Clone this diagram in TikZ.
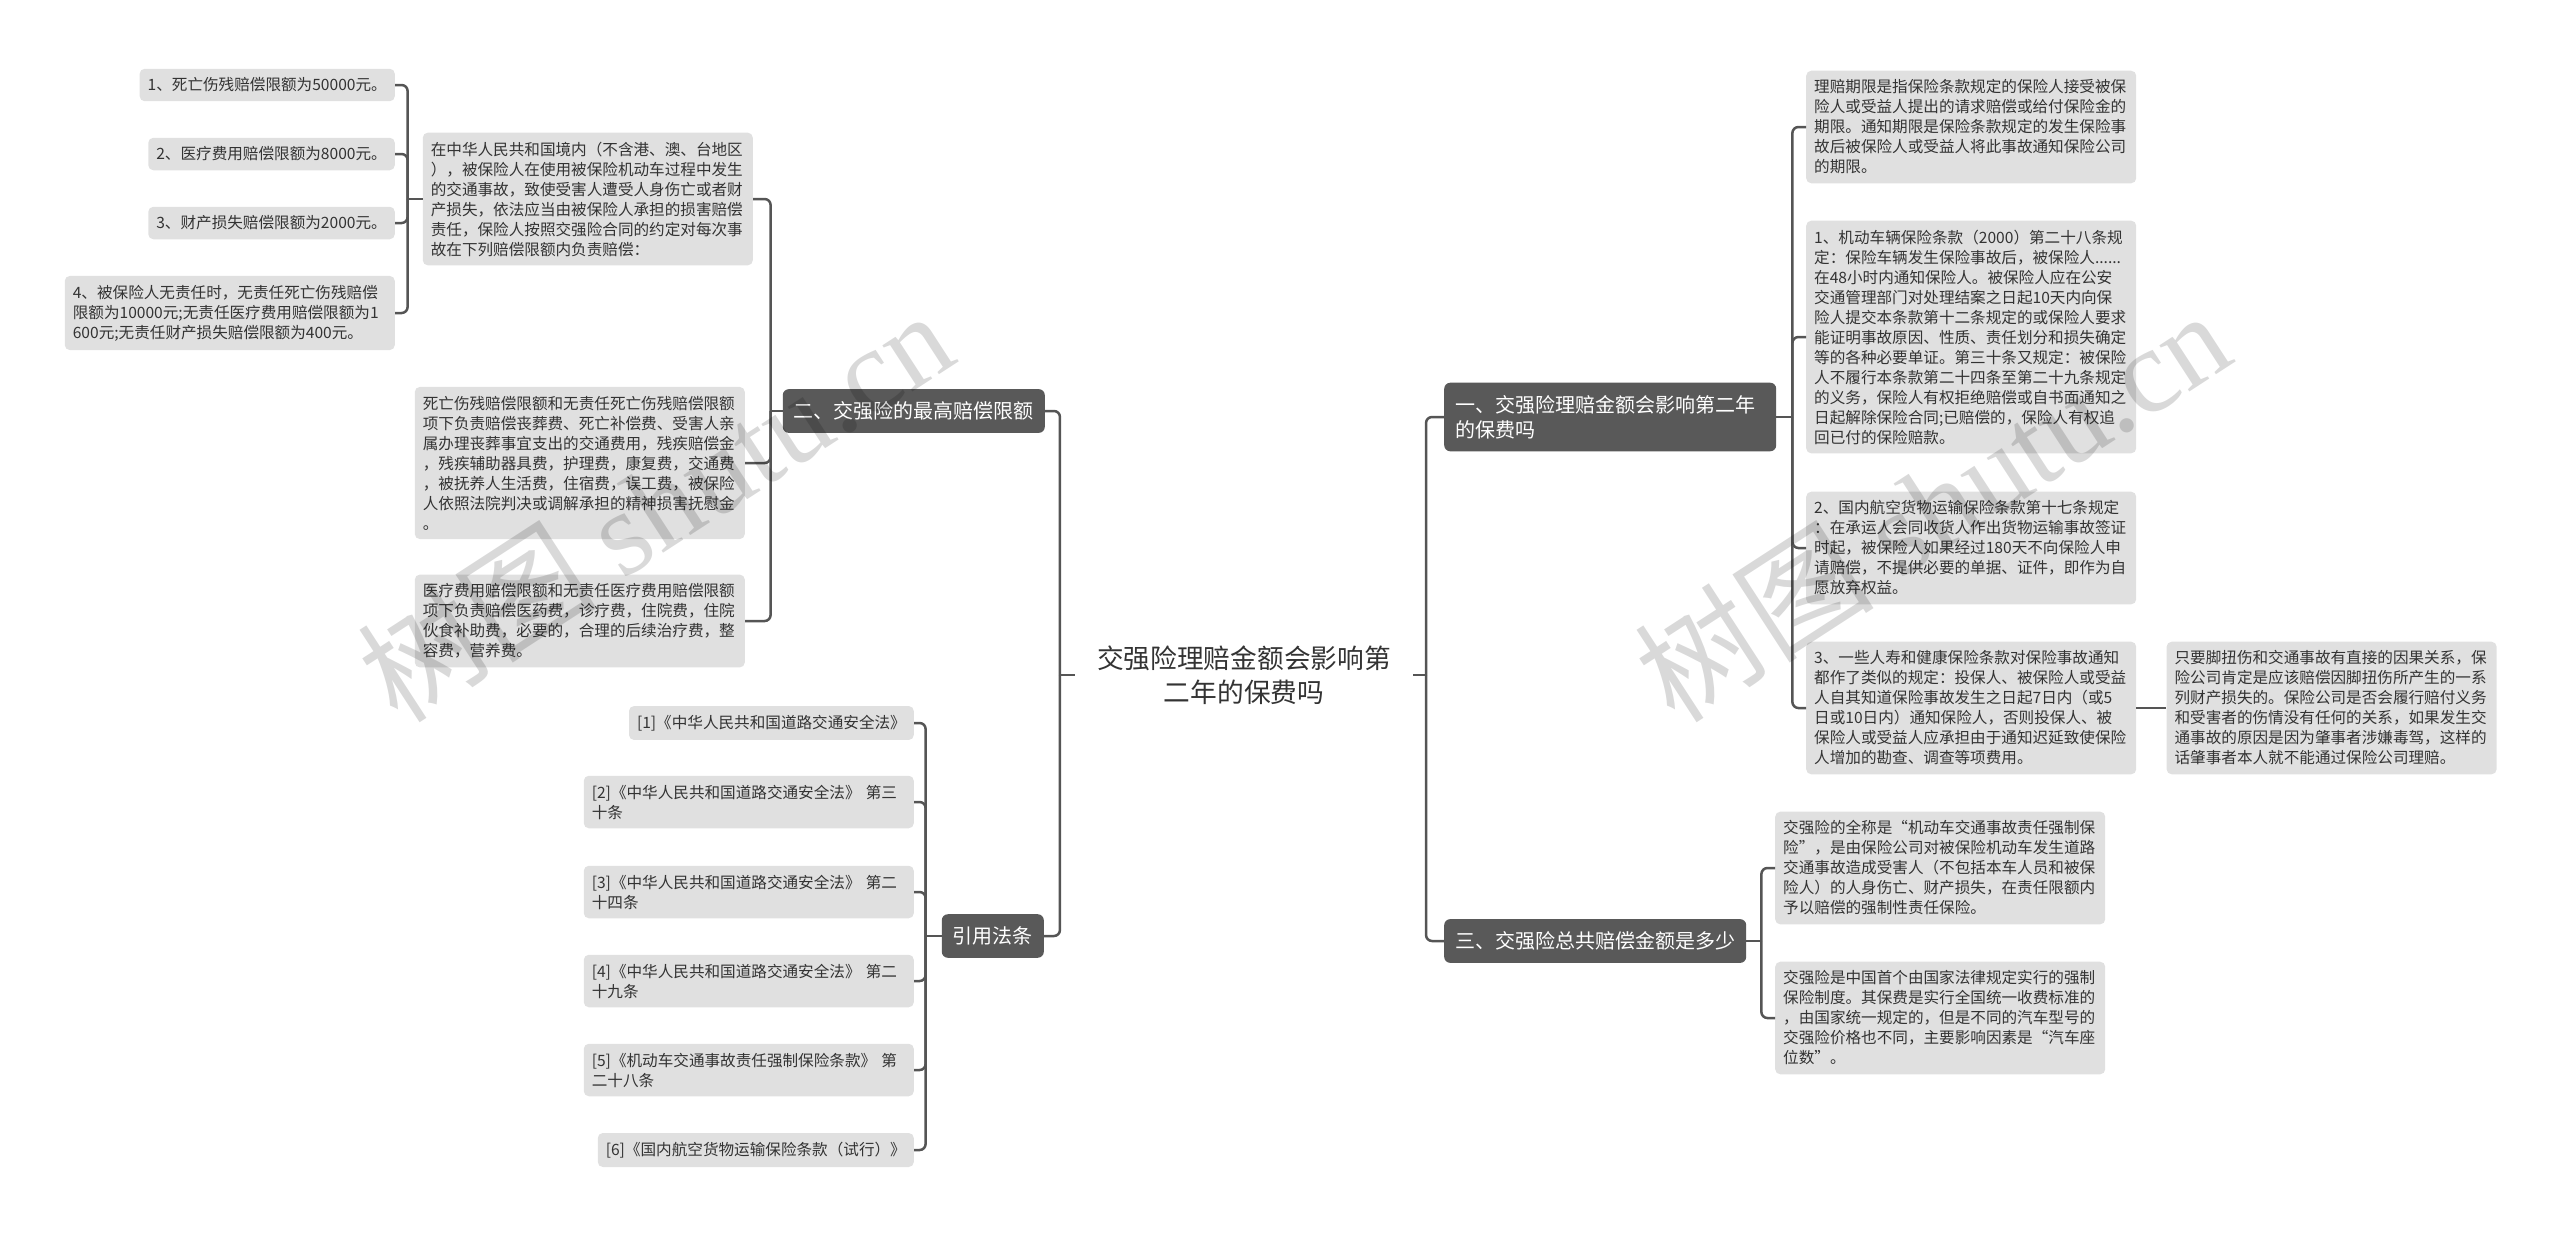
\documentclass[tikz,border=0pt]{standalone}
\usepackage{fontspec}
\setmainfont{Noto Sans CJK SC}
\newfontfamily\wmlatin{Liberation Serif}
\usetikzlibrary{positioning}

\definecolor{branchgray}{HTML}{595959}
\definecolor{leafgray}{HTML}{E0E0E0}
\definecolor{linkgray}{HTML}{555555}
\definecolor{textgray}{HTML}{333333}

\tikzset{
  leaf/.style={fill=leafgray, rounded corners=5pt, inner xsep=8pt, inner ysep=9pt,
    align=left, text=textgray, font=\fontsize{15.6}{20}\selectfont},
  leafwide/.style={leaf, text width=314pt},
  branch/.style={fill=branchgray, rounded corners=6pt, inner xsep=11pt, inner ysep=12.5pt,
    align=left, text=white, font=\fontsize{20}{25}\selectfont},
  link/.style={draw=linkgray, line width=2.5pt, rounded corners=6pt},
  watermark/.style={text=black, opacity=0.15, rotate=33, font=\fontsize{120}{120}\selectfont}
}

\begin{document}
\begin{tikzpicture}[x=1pt,y=-1pt]
    \useasboundingbox (0,0) rectangle (2560,1235);

    % Root
    \node[font=\fontsize{26.7}{34}\selectfont, align=center, text=textgray, inner xsep=22pt]
        (root) at (1244,675) {交强险理赔金额会影响第\\二年的保费吗};

    % Main branches
    \node[branch, anchor=east] (maxlimit) at (1045,411) {二、交强险的最高赔偿限额};
    \node[branch, anchor=east] (laws) at (1044,936) {引用法条};
    \node[branch, anchor=west, text width=310pt] (premium) at (1444,417) {一、交强险理赔金额会影响第二年\\的保费吗};
    \node[branch, anchor=west] (total) at (1444,941) {三、交强险总共赔偿金额是多少};

    % Left: limits
    \node[leafwide, anchor=east] (rule1) at (753,199) {在中华人民共和国境内（不含港、澳、台地区\\），被保险人在使用被保险机动车过程中发生\\的交通事故，致使受害人遭受人身伤亡或者财\\产损失，依法应当由被保险人承担的损害赔偿\\责任，保险人按照交强险合同的约定对每次事\\故在下列赔偿限额内负责赔偿：};
    \node[leafwide, anchor=east] (rule2) at (745,463) {死亡伤残赔偿限额和无责任死亡伤残赔偿限额\\项下负责赔偿丧葬费、死亡补偿费、受害人亲\\属办理丧葬事宜支出的交通费用，残疾赔偿金\\，残疾辅助器具费，护理费，康复费，交通费\\，被抚养人生活费，住宿费，误工费，被保险\\人依照法院判决或调解承担的精神损害抚慰金\\。};
    \node[leafwide, anchor=east] (rule3) at (745,621) {医疗费用赔偿限额和无责任医疗费用赔偿限额\\项下负责赔偿医药费，诊疗费，住院费，住院\\伙食补助费，必要的，合理的后续治疗费，整\\容费，营养费。};

    \node[leaf, anchor=east] (lim1) at (395,85) {1、死亡伤残赔偿限额为50000元。};
    \node[leaf, anchor=east] (lim2) at (395,154) {2、医疗费用赔偿限额为8000元。};
    \node[leaf, anchor=east] (lim3) at (395,223) {3、财产损失赔偿限额为2000元。};
    \node[leafwide, anchor=east] (lim4) at (395,313) {4、被保险人无责任时，无责任死亡伤残赔偿\\限额为10000元;无责任医疗费用赔偿限额为1\\600元;无责任财产损失赔偿限额为400元。};

    % Left: cited laws
    \node[leaf, anchor=east] (law1) at (914,723) {[1]《中华人民共和国道路交通安全法》};
    \node[leafwide, anchor=east] (law2) at (914,802) {[2]《中华人民共和国道路交通安全法》 第三\\十条};
    \node[leafwide, anchor=east] (law3) at (914,892) {[3]《中华人民共和国道路交通安全法》 第二\\十四条};
    \node[leafwide, anchor=east] (law4) at (914,981) {[4]《中华人民共和国道路交通安全法》 第二\\十九条};
    \node[leafwide, anchor=east] (law5) at (914,1070) {[5]《机动车交通事故责任强制保险条款》 第\\二十八条};
    \node[leaf, anchor=east] (law6) at (914,1150) {[6]《国内航空货物运输保险条款（试行）》};

    % Right: premium
    \node[leafwide, anchor=west] (period1) at (1806,127) {理赔期限是指保险条款规定的保险人接受被保\\险人或受益人提出的请求赔偿或给付保险金的\\期限。通知期限是保险条款规定的发生保险事\\故后被保险人或受益人将此事故通知保险公司\\的期限。};
    \node[leafwide, anchor=west] (period2) at (1806,337) {1、机动车辆保险条款（2000）第二十八条规\\定：保险车辆发生保险事故后，被保险人......\\在48小时内通知保险人。被保险人应在公安\\交通管理部门对处理结案之日起10天内向保\\险人提交本条款第十二条规定的或保险人要求\\能证明事故原因、性质、责任划分和损失确定\\等的各种必要单证。第三十条又规定：被保险\\人不履行本条款第二十四条至第二十九条规定\\的义务，保险人有权拒绝赔偿或自书面通知之\\日起解除保险合同;已赔偿的，保险人有权追\\回已付的保险赔款。};
    \node[leafwide, anchor=west] (period3) at (1806,548) {2、国内航空货物运输保险条款第十七条规定\\：在承运人会同收货人作出货物运输事故签证\\时起，被保险人如果经过180天不向保险人申\\请赔偿，不提供必要的单据、证件，即作为自\\愿放弃权益。};
    \node[leafwide, anchor=west] (period4) at (1806,708) {3、一些人寿和健康保险条款对保险事故通知\\都作了类似的规定：投保人、被保险人或受益\\人自其知道保险事故发生之日起7日内（或5\\日或10日内）通知保险人，否则投保人、被\\保险人或受益人应承担由于通知迟延致使保险\\人增加的勘查、调查等项费用。};
    \node[leafwide, right=30pt of period4] (injury) {只要脚扭伤和交通事故有直接的因果关系，保\\险公司肯定是应该赔偿因脚扭伤所产生的一系\\列财产损失的。保险公司是否会履行赔付义务\\和受害者的伤情没有任何的关系，如果发生交\\通事故的原因是因为肇事者涉嫌毒驾，这样的\\话肇事者本人就不能通过保险公司理赔。};

    % Right: total
    \node[leafwide, anchor=west] (def1) at (1775,868) {交强险的全称是“机动车交通事故责任强制保\\险”，是由保险公司对被保险机动车发生道路\\交通事故造成受害人（不包括本车人员和被保\\险人）的人身伤亡、财产损失，在责任限额内\\予以赔偿的强制性责任保险。};
    \node[leafwide, anchor=west] (def2) at (1775,1018) {交强险是中国首个由国家法律规定实行的强制\\保险制度。其保费是实行全国统一收费标准的\\，由国家统一规定的，但是不同的汽车型号的\\交强险价格也不同，主要影响因素是“汽车座\\位数”。};

    % Connectors
    \coordinate (rootL) at ([xshift=-15pt]root.west);
    \coordinate (rootR) at ([xshift=13pt]root.east);
    \draw[link] (root.west) -- (rootL);
    \draw[link] (root.east) -- (rootR);
    \foreach \b in {maxlimit,laws} \draw[link] (rootL) |- (\b.east);
    \foreach \b in {premium,total} \draw[link] (rootR) |- (\b.west);

    \coordinate (maxj) at ([xshift=-12pt]maxlimit.west);
    \draw[link] (maxlimit.west) -- (maxj);
    \foreach \r in {rule1,rule2,rule3} \draw[link] (maxj) |- (\r.east);

    \coordinate (rulej) at ([xshift=-15pt]rule1.west);
    \draw[link] (rule1.west) -- (rulej);
    \foreach \l in {lim1,lim2,lim3,lim4} \draw[link] (rulej) |- (\l.east);

    \coordinate (lawj) at ([xshift=-16pt]laws.west);
    \draw[link] (laws.west) -- (lawj);
    \foreach \l in {law1,law2,law3,law4,law5,law6} \draw[link] (lawj) |- (\l.east);

    \coordinate (premj) at ([xshift=16pt]premium.east);
    \draw[link] (premium.east) -- (premj);
    \foreach \p in {period1,period2,period3,period4} \draw[link] (premj) |- (\p.west);
    \draw[link] (period4.east) -- (injury.west);

    \coordinate (totj) at ([xshift=15pt]total.east);
    \draw[link] (total.east) -- (totj);
    \foreach \d in {def1,def2} \draw[link] (totj) |- (\d.west);

    % Watermarks
    \node[watermark] (wm1) at (655,505) {树图 {\wmlatin shutu.cn}};
    \node[watermark] (wm2) at (1932,505) {树图 {\wmlatin shutu.cn}};
\end{tikzpicture}
\end{document}
